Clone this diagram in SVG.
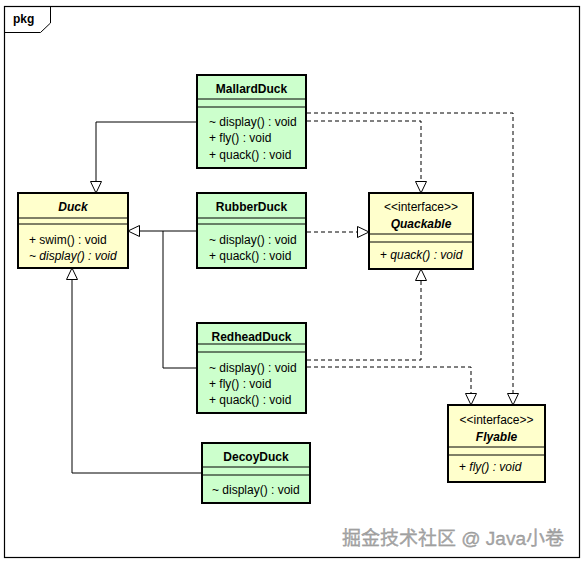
<svg xmlns="http://www.w3.org/2000/svg" width="586" height="565" viewBox="0 0 586 565">
<style>
text{font-family:"Liberation Sans",Arial,sans-serif;font-size:12px;fill:#000}
.nm{font-weight:bold;text-anchor:middle}
.it{font-style:italic}
.c{text-anchor:middle}
.box{stroke:#000;stroke-width:2}
.g{fill:#ccffcc}
.y{fill:#ffffcc}
.sep{stroke:#000;stroke-width:1}
.ln{fill:none;stroke:#000;stroke-width:1}
.dash{stroke-dasharray:4 3}
</style>
<defs>
<marker id="tri" markerUnits="userSpaceOnUse" markerWidth="14" markerHeight="14" refX="12" refY="6" orient="auto" viewBox="0 0 14 14">
<path d="M0.5,0.5 L12,6 L0.5,11.5 z" fill="#fff" stroke="#000" stroke-width="1" stroke-dasharray="none"/>
</marker>
</defs>
<rect width="586" height="565" fill="#fff"/>
<g id="frame">
<rect x="4.5" y="6.5" width="575" height="551" fill="none" stroke="#000" stroke-width="1.2"/>
<path d="M4.5,32.5 H40.5 L50.5,23 V6.5" fill="none" stroke="#000" stroke-width="1"/>
<text x="13" y="23" font-weight="bold">pkg</text>
</g>
<g id="connectors">
<path class="ln" d="M197,122 H96 V193" marker-end="url(#tri)"/>
<path class="ln" d="M197,231 H128" marker-end="url(#tri)"/>
<path class="ln" d="M197,368 H163 V231"/>
<path class="ln" d="M202,473 H72 V268" marker-end="url(#tri)"/>
<path class="ln dash" d="M307,121 H421 V193" marker-end="url(#tri)"/>
<path class="ln dash" d="M307,113 H513 V405" marker-end="url(#tri)"/>
<path class="ln dash" d="M307,232 H369" marker-end="url(#tri)"/>
<path class="ln dash" d="M307,360 H421 V269" marker-end="url(#tri)"/>
<path class="ln dash" d="M307,367 H471 V405" marker-end="url(#tri)"/>
</g>
<g id="MallardDuck">
<rect class="box g" x="197" y="75" width="109" height="93"/>
<line class="sep" x1="197" y1="99" x2="306" y2="99"/>
<line class="sep" x1="197" y1="107" x2="306" y2="107"/>
<text class="nm" x="251.5" y="93">MallardDuck</text>
<text x="209" y="126">~ display() : void</text>
<text x="209" y="142">+ fly() : void</text>
<text x="209" y="159">+ quack() : void</text>
</g>
<g id="Duck">
<rect class="box y" x="18" y="193" width="110" height="75"/>
<line class="sep" x1="18" y1="218" x2="128" y2="218"/>
<line class="sep" x1="18" y1="224" x2="128" y2="224"/>
<text class="nm it" x="73" y="211">Duck</text>
<text x="29" y="244">+ swim() : void</text>
<text class="it" x="29" y="260">~ display() : void</text>
</g>
<g id="RubberDuck">
<rect class="box g" x="197" y="193" width="109" height="75"/>
<line class="sep" x1="197" y1="218" x2="306" y2="218"/>
<line class="sep" x1="197" y1="224" x2="306" y2="224"/>
<text class="nm" x="251.5" y="211">RubberDuck</text>
<text x="209" y="244">~ display() : void</text>
<text x="209" y="260">+ quack() : void</text>
</g>
<g id="Quackable">
<rect class="box y" x="369" y="193" width="104" height="76"/>
<line class="sep" x1="369" y1="234" x2="473" y2="234"/>
<line class="sep" x1="369" y1="242" x2="473" y2="242"/>
<text class="c" x="421" y="211">&lt;&lt;interface&gt;&gt;</text>
<text class="nm it" x="421" y="228">Quackable</text>
<text class="it" x="380" y="259"><tspan font-style="normal">+ </tspan>quack() : void</text>
</g>
<g id="RedheadDuck">
<rect class="box g" x="197" y="323" width="109" height="90"/>
<line class="sep" x1="197" y1="344" x2="306" y2="344"/>
<line class="sep" x1="197" y1="352" x2="306" y2="352"/>
<text class="nm" x="251.5" y="341">RedheadDuck</text>
<text x="209" y="372">~ display() : void</text>
<text x="209" y="388">+ fly() : void</text>
<text x="209" y="404">+ quack() : void</text>
</g>
<g id="Flyable">
<rect class="box y" x="448" y="405" width="97" height="77"/>
<line class="sep" x1="448" y1="447" x2="545" y2="447"/>
<line class="sep" x1="448" y1="455" x2="545" y2="455"/>
<text class="c" x="496.5" y="424">&lt;&lt;interface&gt;&gt;</text>
<text class="nm it" x="496.5" y="441">Flyable</text>
<text class="it" x="459" y="471"><tspan font-style="normal">+ </tspan>fly() : void</text>
</g>
<g id="DecoyDuck">
<rect class="box g" x="202" y="443" width="108" height="60"/>
<line class="sep" x1="202" y1="467" x2="310" y2="467"/>
<line class="sep" x1="202" y1="475" x2="310" y2="475"/>
<text class="nm" x="256" y="461">DecoyDuck</text>
<text x="212" y="494">~ display() : void</text>
</g>
<text x="342" y="545" style="font-family:'Liberation Sans','Noto Sans CJK SC',sans-serif;font-size:19px;fill:#a8a8a8;stroke:#8a8a8a;stroke-width:0.3">掘金技术社区 @ Java小卷</text>
</svg>
